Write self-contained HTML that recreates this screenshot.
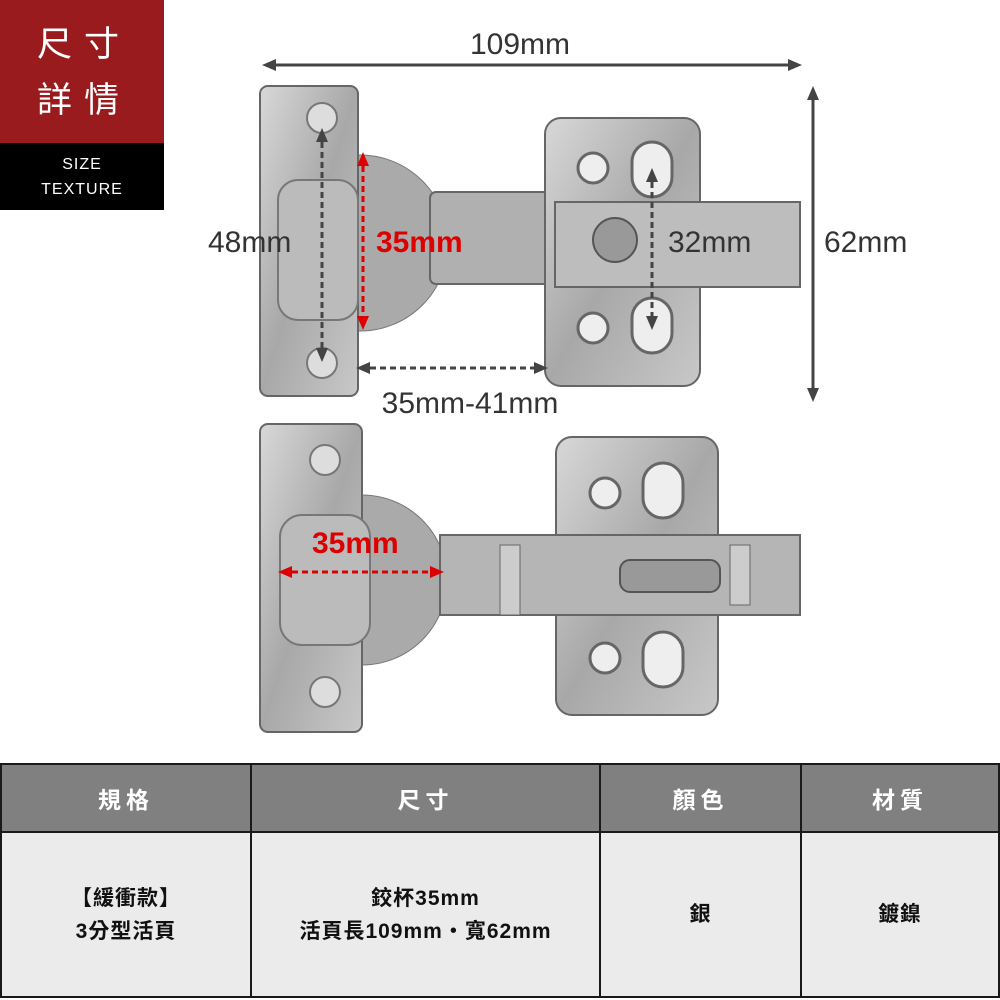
<!DOCTYPE html>
<html><head><meta charset="utf-8"><style>
body{margin:0;width:1000px;height:1000px;background:#fff;overflow:hidden;font-family:"Liberation Sans","Noto Sans CJK TC",sans-serif;position:relative}
.red{position:absolute;left:0;top:0;width:164px;height:143px;background:#9a1b1e;color:#fff;font-size:35px;line-height:56px;text-align:center;padding-top:17px;padding-left:4px;box-sizing:border-box;letter-spacing:12px}
.blk{position:absolute;left:0;top:143px;width:164px;height:67px;background:#000;color:#fff;font-size:16px;line-height:25px;text-align:center;padding-top:9px;box-sizing:border-box;letter-spacing:1px}
table{position:absolute;left:0;top:763px;width:1000px;border-collapse:collapse;table-layout:fixed}
td{border:2px solid #1a1a1a;text-align:center;font-size:21px;letter-spacing:1px;font-weight:bold;padding:0}
.h td{background:#808080;color:#fff;height:66px;font-size:23px;letter-spacing:5px}
.b td{background:#ebebeb;color:#111;height:163px;line-height:33px}
</style></head><body>
<div class="red">尺寸<br>詳情</div>
<div class="blk">SIZE<br>TEXTURE</div>
<svg width="1000" height="760" style="position:absolute;left:0;top:0" font-family="Liberation Sans, sans-serif">
<defs>
<linearGradient id="m" x1="0" y1="0" x2="1" y2="1"><stop offset="0" stop-color="#d8d8d8"/><stop offset=".5" stop-color="#a8a8a8"/><stop offset="1" stop-color="#c8c8c8"/></linearGradient>
<marker id="ag" markerUnits="userSpaceOnUse" markerWidth="14" markerHeight="14" refX="10" refY="7" orient="auto-start-reverse"><path d="M0,1L14,7L0,13z" fill="#444"/></marker>
<marker id="ar" markerUnits="userSpaceOnUse" markerWidth="14" markerHeight="14" refX="10" refY="7" orient="auto-start-reverse"><path d="M0,1L14,7L0,13z" fill="#d00"/></marker>
</defs>
<!-- top hinge -->
<circle cx="360" cy="243" r="88" fill="#aaa" stroke="#777"/>
<rect x="260" y="86" width="98" height="310" rx="8" fill="url(#m)" stroke="#666" stroke-width="2"/>
<rect x="278" y="180" width="80" height="140" rx="20" fill="#bbb" stroke="#777" stroke-width="2"/>
<circle cx="322" cy="118" r="15" fill="#ddd" stroke="#777" stroke-width="2"/>
<circle cx="322" cy="363" r="15" fill="#ddd" stroke="#777" stroke-width="2"/>
<rect x="430" y="192" width="140" height="92" rx="6" fill="#b0b0b0" stroke="#666" stroke-width="2"/>
<rect x="545" y="118" width="155" height="268" rx="16" fill="url(#m)" stroke="#666" stroke-width="2"/>
<rect x="555" y="202" width="245" height="85" fill="#bdbdbd" stroke="#666" stroke-width="2"/>
<circle cx="615" cy="240" r="22" fill="#999" stroke="#555" stroke-width="2"/>
<circle cx="593" cy="168" r="15" fill="#eee" stroke="#666" stroke-width="3"/>
<circle cx="593" cy="328" r="15" fill="#eee" stroke="#666" stroke-width="3"/>
<rect x="632" y="142" width="40" height="55" rx="20" fill="#eee" stroke="#666" stroke-width="3"/>
<rect x="632" y="298" width="40" height="55" rx="20" fill="#eee" stroke="#666" stroke-width="3"/>
<!-- dims -->
<text x="520" y="54" font-size="30" fill="#333" text-anchor="middle">109mm</text>
<line x1="266" y1="65" x2="798" y2="65" stroke="#444" stroke-width="3" marker-start="url(#ag)" marker-end="url(#ag)"/>
<line x1="813" y1="90" x2="813" y2="398" stroke="#444" stroke-width="3" marker-start="url(#ag)" marker-end="url(#ag)"/>
<text x="824" y="252" font-size="30" fill="#333">62mm</text>
<text x="208" y="252" font-size="30" fill="#333">48mm</text>
<line x1="322" y1="132" x2="322" y2="358" stroke="#444" stroke-width="3" stroke-dasharray="6,4" marker-start="url(#ag)" marker-end="url(#ag)"/>
<line x1="363" y1="156" x2="363" y2="326" stroke="#d00" stroke-width="3" stroke-dasharray="6,4" marker-start="url(#ar)" marker-end="url(#ar)"/>
<text x="376" y="252" font-size="30" fill="#d00" font-weight="bold">35mm</text>
<line x1="652" y1="172" x2="652" y2="326" stroke="#444" stroke-width="3" stroke-dasharray="6,4" marker-start="url(#ag)" marker-end="url(#ag)"/>
<text x="668" y="252" font-size="30" fill="#333">32mm</text>
<line x1="360" y1="368" x2="544" y2="368" stroke="#444" stroke-width="3" stroke-dasharray="6,4" marker-start="url(#ag)" marker-end="url(#ag)"/>
<text x="470" y="413" font-size="30" fill="#333" text-anchor="middle">35mm-41mm</text>
<!-- bottom hinge -->
<circle cx="362" cy="580" r="85" fill="#aaa" stroke="#777"/>
<rect x="260" y="424" width="102" height="308" rx="8" fill="url(#m)" stroke="#666" stroke-width="2"/>
<rect x="280" y="515" width="90" height="130" rx="22" fill="#bbb" stroke="#777" stroke-width="2"/>
<circle cx="325" cy="460" r="15" fill="#ddd" stroke="#777" stroke-width="2"/>
<circle cx="325" cy="692" r="15" fill="#ddd" stroke="#777" stroke-width="2"/>
<rect x="556" y="437" width="162" height="278" rx="16" fill="url(#m)" stroke="#666" stroke-width="2"/>
<rect x="440" y="535" width="360" height="80" fill="#b5b5b5" stroke="#666" stroke-width="2"/>
<rect x="620" y="560" width="100" height="32" rx="10" fill="#999" stroke="#555" stroke-width="2"/>
<rect x="500" y="545" width="20" height="70" fill="#ccc" stroke="#666"/>
<rect x="730" y="545" width="20" height="60" fill="#ccc" stroke="#666"/>
<circle cx="605" cy="493" r="15" fill="#eee" stroke="#666" stroke-width="3"/>
<circle cx="605" cy="658" r="15" fill="#eee" stroke="#666" stroke-width="3"/>
<rect x="643" y="463" width="40" height="55" rx="20" fill="#eee" stroke="#666" stroke-width="3"/>
<rect x="643" y="632" width="40" height="55" rx="20" fill="#eee" stroke="#666" stroke-width="3"/>
<line x1="282" y1="572" x2="440" y2="572" stroke="#d00" stroke-width="3" stroke-dasharray="6,4" marker-start="url(#ar)" marker-end="url(#ar)"/>
<text x="312" y="553" font-size="30" fill="#d00" font-weight="bold">35mm</text>
</svg>
<table>
<colgroup><col style="width:250px"><col style="width:349px"><col style="width:201px"><col></colgroup>
<tr class="h"><td>規格</td><td>尺寸</td><td>顏色</td><td>材質</td></tr>
<tr class="b"><td>【緩衝款】<br>3分型活頁</td><td>鉸杯35mm<br>活頁長109mm‧寬62mm</td><td>銀</td><td>鍍鎳</td></tr>
</table>
</body></html>
